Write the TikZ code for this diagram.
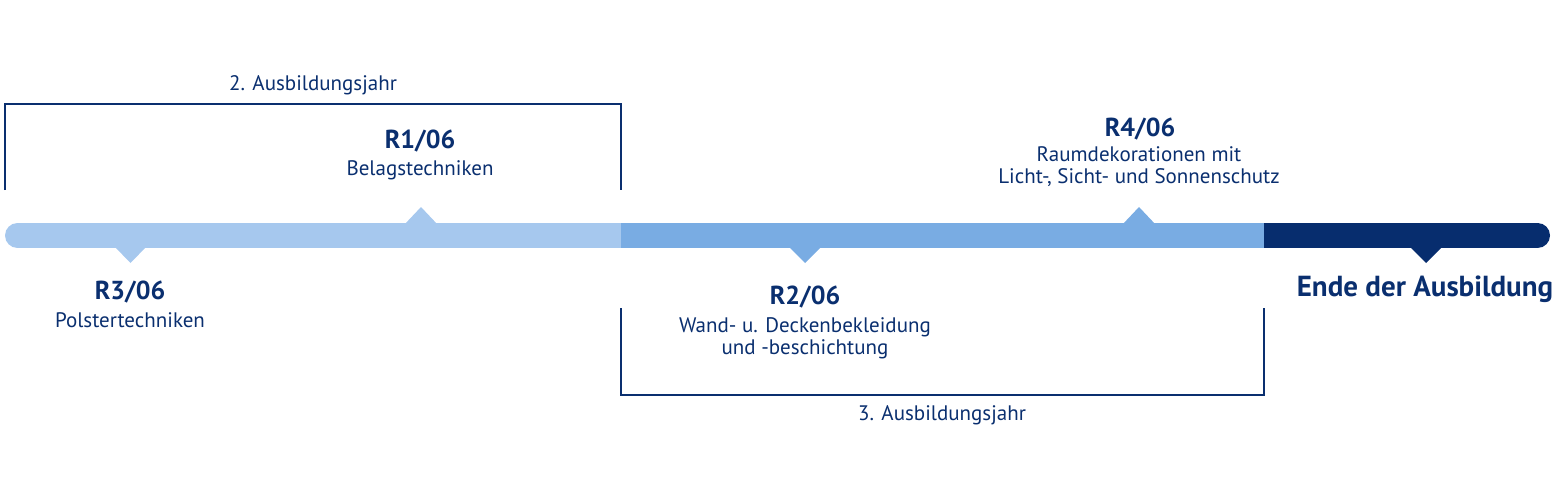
\documentclass[tikz,border=0pt]{standalone}
\usepackage{fontspec}
\setmainfont{PT Sans}
\usepackage{tikz}
\usetikzlibrary{positioning}

\definecolor{navy}{HTML}{0A2F6F}
\definecolor{barlight}{HTML}{A6C8EE}
\definecolor{barmid}{HTML}{79ACE3}
\definecolor{bardark}{HTML}{072D6E}

\tikzset{
  title/.style={font=\fontsize{26}{28}\selectfont\bfseries, text=navy, inner sep=0pt, anchor=base},
  desc/.style={font=\fontsize{21}{21.5}\selectfont, text=navy, inner sep=0pt, anchor=base, align=center},
  year/.style={font=\fontsize{21}{22}\selectfont, text=navy, inner sep=0pt, anchor=base},
  bracket/.style={draw=navy, line width=2pt},
}

\begin{document}
\begin{tikzpicture}[x=1pt,y=-1pt]
\useasboundingbox (0,0) rectangle (1560,500);

% timeline bar
\draw[bardark, line width=25pt, line cap=round] (1264,235.5) -- (1537.5,235.5);
\draw[barlight, line width=25pt, line cap=round] (17.5,235.5) -- (621,235.5);
\draw[barmid, line width=25pt] (621,235.5) -- (1264,235.5);

% markers
\fill[barlight] (114,246) -- (147,246) -- (130.5,263) -- cycle;
\fill[barlight] (404,225) -- (438,225) -- (421,207) -- cycle;
\fill[barmid] (788,246) -- (822,246) -- (805,263) -- cycle;
\fill[barmid] (1122,225) -- (1156,225) -- (1139,207) -- cycle;
\fill[bardark] (1409,246) -- (1443,246) -- (1426,263) -- cycle;

% labels (multi-line texts sit on their last baseline)
\node[title] (r1) at (420,149) {R1/06};
\node[desc] (r1d) at (420,175) {Belagstechniken};
\node[title] (r3) at (130,299) {R3/06};
\node[desc] (r3d) at (130,327) {Polstertechniken};
\node[title] (r2) at (805,304) {R2/06};
\node[desc] (r2d) at (805,354) {Wand- u. Deckenbekleidung\\und -beschichtung};
\node[title] (r4) at (1140,136) {R4/06};
\node[desc] (r4d) at (1139,183) {Raumdekorationen mit\\Licht-, Sicht- und Sonnenschutz};
\node[title, font=\fontsize{29}{31}\selectfont\bfseries] (ende) at (1425,296) {Ende der Ausbildung};

% years
\node[year] (j2) at (313,91) {2. Ausbildungsjahr};
\node[year] (j3) at (942,420) {3. Ausbildungsjahr};

\coordinate (a1) at (5,190);
\coordinate (a2) at (621,190);
\coordinate (b1) at (621,308);
\coordinate (b2) at (1264,308);
\draw[bracket] (a1) |- (313,104) -| (a2);
\draw[bracket] (b1) |- (942,395) -| (b2);

\end{tikzpicture}
\end{document}
